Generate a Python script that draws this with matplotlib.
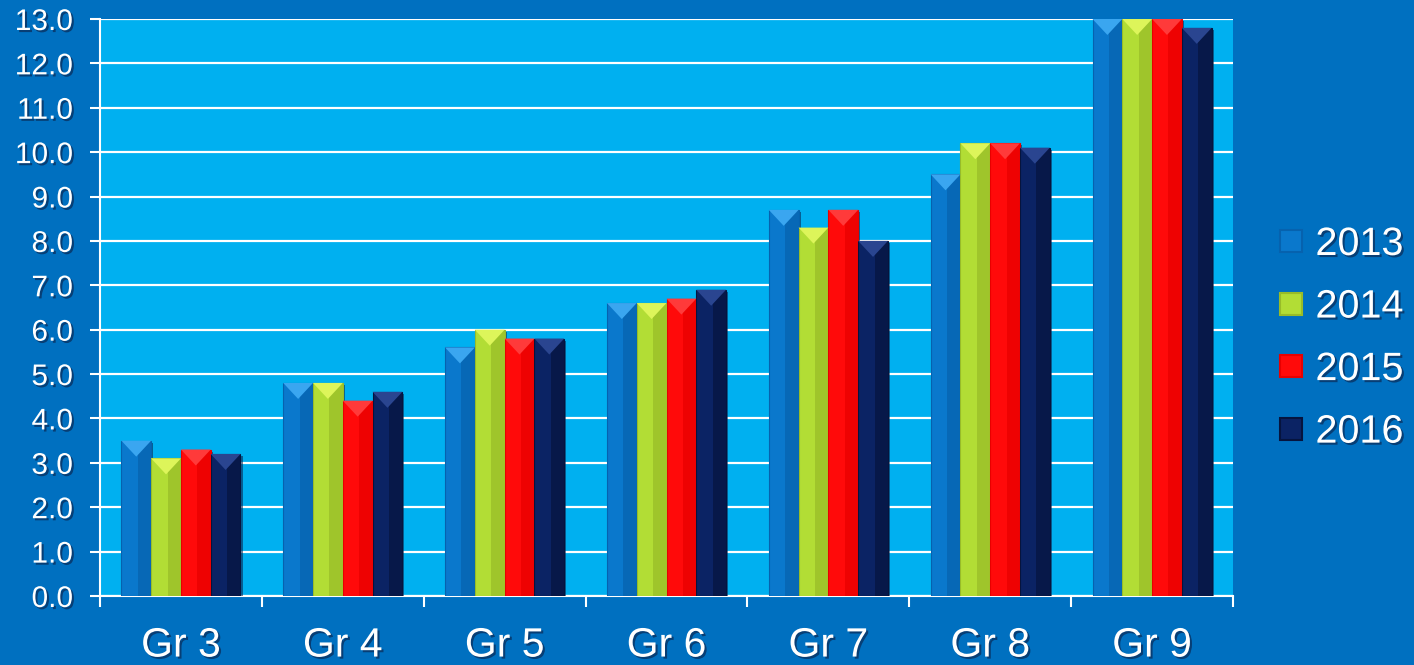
import matplotlib
matplotlib.use("Agg")
import matplotlib.pyplot as plt
import matplotlib.patheffects as pe
from matplotlib.patches import Polygon, Rectangle
from matplotlib.lines import Line2D
import numpy as np

categories = ["Gr 3", "Gr 4", "Gr 5", "Gr 6", "Gr 7", "Gr 8", "Gr 9"]
series_names = ["2013", "2014", "2015", "2016"]
v2013 = [3.5, 4.8, 5.6, 6.6, 8.7, 9.5, 13.0]
v2014 = [3.1, 4.8, 6.0, 6.6, 8.3, 10.2, 13.0]
v2015 = [3.3, 4.4, 5.8, 6.7, 8.7, 10.2, 13.0]
v2016 = [3.2, 4.6, 5.8, 6.9, 8.0, 10.1, 12.8]
yticks = [0, 1, 2, 3, 4, 5, 6, 7, 8, 9, 10, 11, 12, 13]

series = [v2013, v2014, v2015, v2016]
colors = ["#0A78CC", "#B2DD35", "#FF0A0A", "#0B2364"]
dark = ["#0662AE", "#98BC28", "#E80000", "#06143E"]
tops = ["#3AA6F0", "#DDF55A", "#FF3A3A", "#2A4590"]

plt.rcParams['font.family'] = ['Liberation Sans', 'DejaVu Sans']
shadow = [pe.withSimplePatchShadow(offset=(1.5, -1.5), shadow_rgbFace='#0A2A55', alpha=0.6)]
tshadow = [pe.SimplePatchShadow(offset=(1.5, -1.5), shadow_rgbFace='#0A2A55', alpha=0.7),
           pe.Normal()]

fig = plt.figure(figsize=(14.14, 6.65), dpi=100, facecolor="#0070C0")
ax = fig.add_axes([100/1414, 69/665, 1133/1414, 577/665])
ax.set_facecolor("#00B0F0")
ax.set_xlim(0, len(categories))
ax.set_ylim(0, 13)

nser = len(series)
bw = 0.184
x = np.arange(len(categories)) + 0.5
for i, vals in enumerate(series):
    xs = x + (i - (nser - 1) / 2) * bw
    bars = ax.bar(xs, vals, width=bw, color=colors[i], edgecolor=dark[i], linewidth=0.8,
                  zorder=3, clip_on=True)
    for b in bars:
        b.set_path_effects(shadow)
        x0, w, h = b.get_x(), b.get_width(), b.get_height()
        ax.add_patch(Rectangle((x0 + w * 0.55, 0), w * 0.45, h, facecolor=dark[i],
                               edgecolor='none', alpha=0.7, zorder=3.1))
        d = 0.36
        ax.add_patch(Polygon([(x0, h), (x0 + w, h), (x0 + w / 2, h - d)], closed=True,
                             facecolor=tops[i], edgecolor='none', zorder=3.2))

ax.set_yticks(yticks)
ax.set_yticklabels([f"{t:.1f}" for t in yticks])
ax.yaxis.grid(True, color="white", linewidth=1.6, zorder=1)
ax.set_axisbelow(True)

ax.set_xticks(x)
ax.set_xticklabels(categories)
ax.set_xticks(np.arange(len(categories) + 1), minor=True)
ax.tick_params(axis='x', which='major', length=0, pad=22, labelsize=29.5, labelcolor='white')
ax.tick_params(axis='x', which='minor', length=8, width=1.5, color='white', direction='out')
ax.tick_params(axis='y', which='major', length=7.5, width=1.5, color='white', pad=12,
               labelsize=21.5, labelcolor='white')

for s in ['top', 'right']:
    ax.spines[s].set_visible(False)
for s in ['left', 'bottom']:
    ax.spines[s].set_color('white')
    ax.spines[s].set_linewidth(1.5)

for lab in ax.get_xticklabels() + ax.get_yticklabels():
    lab.set_path_effects(tshadow)

handles = [Line2D([0], [0], marker='s', linestyle='none', markersize=16,
                  markerfacecolor=colors[i], markeredgecolor=dark[i], markeredgewidth=1.5)
           for i in range(nser)]
leg = fig.legend(handles, series_names, loc='center left', bbox_to_anchor=(1260/1414, 0.492),
                 frameon=False, fontsize=28.5, labelcolor='white', handlelength=0.75,
                 handletextpad=0.25, labelspacing=0.62, borderaxespad=0)
for t in leg.get_texts():
    t.set_path_effects(tshadow)

fig.savefig("out.png", dpi=100, facecolor=fig.get_facecolor())
